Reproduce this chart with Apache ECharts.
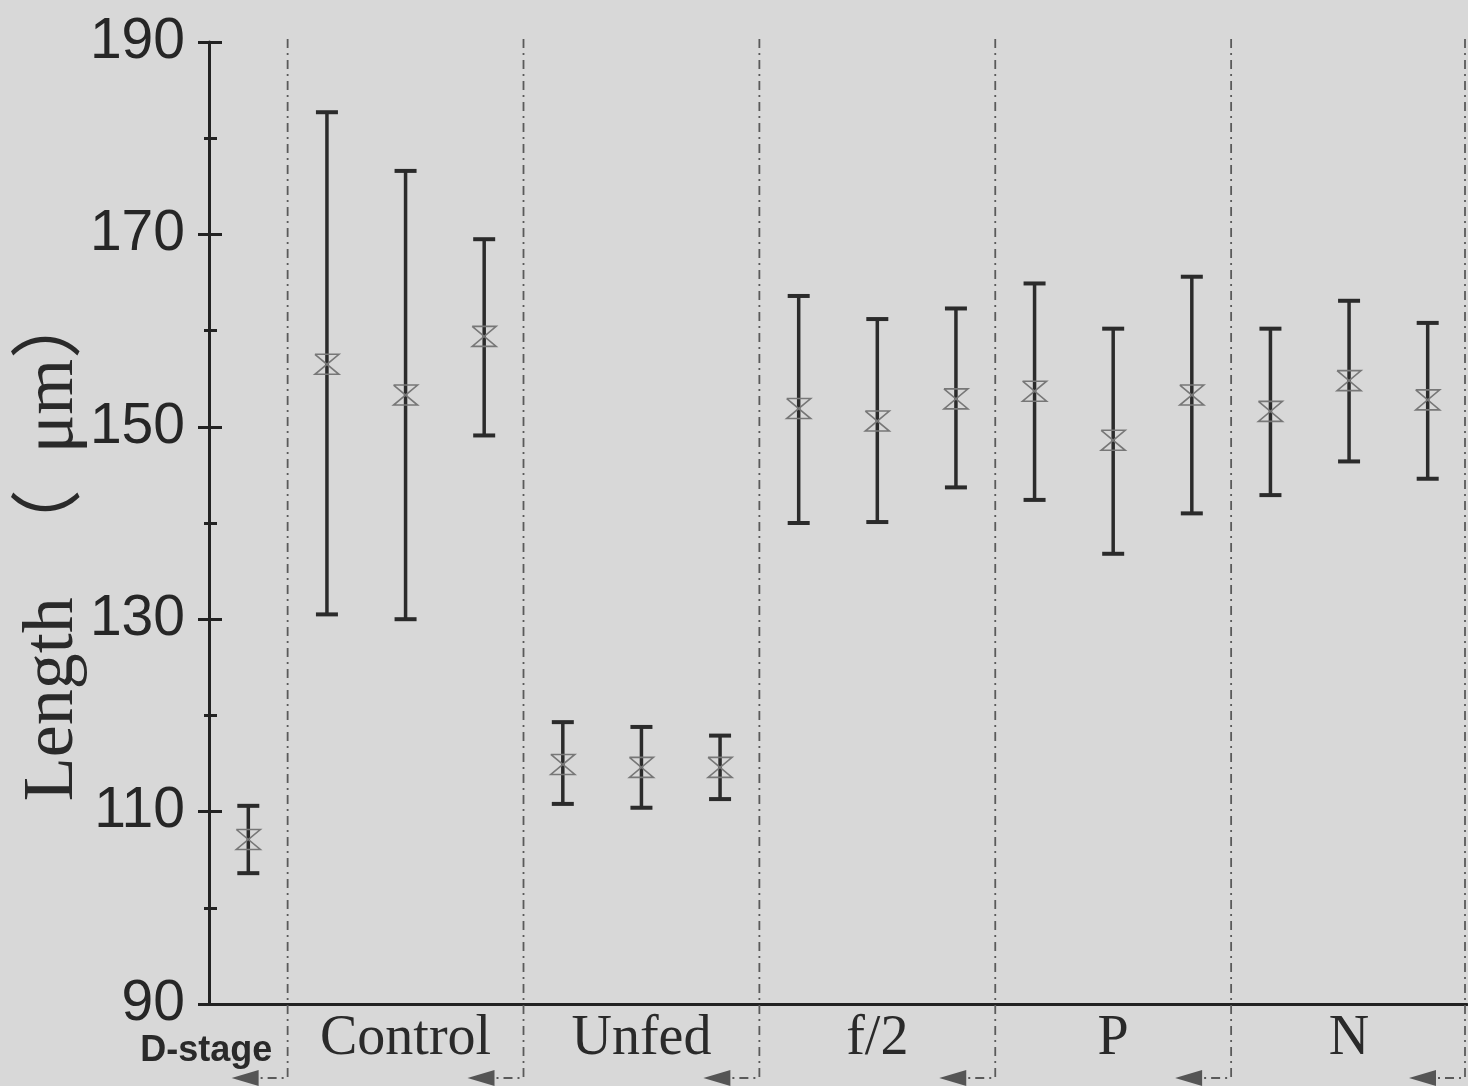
<!DOCTYPE html>
<html>
<head>
<meta charset="utf-8">
<script src="https://cdn.jsdelivr.net/npm/echarts@6/dist/echarts.min.js"></script>
<style>
  html, body { margin: 0; padding: 0; background: #d7d7d7; }
  #chart { width: 1468px; height: 1086px; }
</style>
</head>
<body>
<div id="chart"></div>
<script>
// groups along the x axis, each bar belongs to one of them
var categories = ['D-stage',
  'Control-1', 'Control-2', 'Control-3',
  'Unfed-1', 'Unfed-2', 'Unfed-3',
  'f/2-1', 'f/2-2', 'f/2-3',
  'P-1', 'P-2', 'P-3',
  'N-1', 'N-2', 'N-3'];
// label shown under the middle bar of each group
var groupLabels = {'D-stage': 'D-stage', 'Control-2': 'Control', 'Unfed-2': 'Unfed',
  'f/2-2': 'f/2', 'P-2': 'P', 'N-2': 'N'};
// separators sit after these category indexes
var groupEnds = [0, 3, 6, 9, 12, 15];

// length (um): mean, upper and lower end of the error bar
var meanLen  = [107.1, 156.5, 153.3, 159.4, 114.9, 114.6, 114.6, 151.9, 150.6, 152.9, 153.7, 148.6, 153.3, 151.6, 154.8, 152.8];
var upperLen = [110.6, 182.7, 176.6, 169.5, 119.3, 118.8, 117.9, 163.6, 161.2, 162.3, 164.9, 160.2, 165.6, 160.2, 163.1, 160.8];
var lowerLen = [103.6, 130.5, 130.0, 149.1, 110.8, 110.4, 111.3, 140.0, 140.1, 143.7, 142.4, 136.8, 141.0, 142.9, 146.4, 144.6];

var yMin = 90, yMax = 190;

var barData = categories.map(function (c, i) {
  return [i, lowerLen[i], upperLen[i], meanLen[i]];
});
var sepData = groupEnds.map(function (i) { return [i, yMax]; });

var chart = echarts.init(document.getElementById('chart'));

var ink = '#222';
var option = {
  backgroundColor: '#d8d8d8',
  animation: false,
  grid: { left: 209, right: 1, top: 42, bottom: 82 },
  xAxis: {
    type: 'category',
    data: categories,
    boundaryGap: true,
    axisLine: { lineStyle: { color: ink, width: 3 } },
    axisTick: { show: false },
    splitLine: { show: false },
    axisLabel: {
      interval: 0,
      margin: 7,
      formatter: function (val) {
        var t = groupLabels[val];
        if (!t) return '';
        return t === 'D-stage' ? '{d|' + t + '}' : '{g|' + t + '}';
      },
      rich: {
        g: { fontFamily: 'Liberation Serif', fontSize: 56, color: '#2a2a2a' },
        d: { fontFamily: 'Liberation Sans', fontWeight: 'bold', fontSize: 36, color: '#2a2a2a', padding: [22, 84, 0, 0] }
      }
    }
  },
  yAxis: [
    {
      // data axis, short inside ticks every 10
      type: 'value', position: 'left', min: yMin, max: yMax, interval: 10,
      axisLine: { show: true, lineStyle: { color: ink, width: 3 } },
      axisTick: { show: true, inside: true, length: 8, lineStyle: { color: ink, width: 3 } },
      axisLabel: { show: false },
      splitLine: { show: false },
      name: 'Length  （  μm）',
      nameLocation: 'middle',
      nameGap: 120,
      nameTextStyle: { fontFamily: "'Liberation Serif', 'Noto Sans CJK SC'", fontSize: 72, color: '#2a2a2a', padding: [0, 42, 0, 0] }
    },
    {
      // outside ticks + labels (0..100 mapped to 90..190)
      type: 'value', position: 'left', offset: 0, min: 0, max: 100, interval: 20,
      axisLine: { show: false },
      axisTick: { show: true, length: 11, lineStyle: { color: ink, width: 3 } },
      minorTick: { show: true, splitNumber: 2, length: 5, lineStyle: { color: ink, width: 3 } },
      axisLabel: {
        margin: 24, fontFamily: 'Liberation Sans', fontSize: 57, color: '#262626',
        formatter: function (v) { return String(v + yMin); }
      },
      splitLine: { show: false }
    },
    {
      // long inside ticks at the labelled values
      type: 'value', position: 'left', offset: 0, min: 0, max: 100, interval: 20,
      axisLine: { show: false },
      axisTick: { show: true, inside: true, length: 13, lineStyle: { color: ink, width: 3 } },
      axisLabel: { show: false },
      splitLine: { show: false }
    }
  ],
  series: [
    {
      // group separators with the little arrow underneath
      type: 'custom',
      clip: false,
      silent: true,
      data: sepData,
      renderItem: function (params, api) {
        var idx = api.value(0);
        var top = api.coord([idx, yMax]);
        var bottom = api.coord([idx, yMin]);
        var bw = api.size([1, 0])[0];
        var x = top[0] + bw / 2;
        var right = params.coordSys.x + params.coordSys.width;
        if (x > right - 2) x = right - 2;
        var yb = bottom[1] + 74;
        return {
          type: 'group',
          children: [
            {
              type: 'polyline',
              shape: { points: [[x, top[1] - 3], [x, yb], [x - 28, yb]] },
              style: { stroke: '#5a5a5a', lineWidth: 1.8, fill: null, lineDash: [9, 5, 2, 5] }
            },
            {
              type: 'polygon',
              shape: { points: [[x - 29, yb - 8], [x - 29, yb + 8], [x - 56, yb]] },
              style: { fill: '#555' }
            }
          ]
        };
      }
    },
    {
      // error bars with hourglass marker at the mean
      type: 'custom',
      yAxisIndex: 0,
      data: barData,
      renderItem: function (params, api) {
        var lo = api.coord([api.value(0), api.value(1)]);
        var hi = api.coord([api.value(0), api.value(2)]);
        var mid = api.coord([api.value(0), api.value(3)]);
        var x = hi[0], cw = 11, hw = 12, hh = 10;
        return {
          type: 'group',
          children: [
            { type: 'line', shape: { x1: x, y1: hi[1], x2: x, y2: lo[1] }, style: { stroke: '#2b2b2b', lineWidth: 3.5 } },
            { type: 'line', shape: { x1: x - cw, y1: hi[1], x2: x + cw, y2: hi[1] }, style: { stroke: '#2b2b2b', lineWidth: 4 } },
            { type: 'line', shape: { x1: x - cw, y1: lo[1], x2: x + cw, y2: lo[1] }, style: { stroke: '#2b2b2b', lineWidth: 4 } },
            {
              type: 'polyline',
              shape: { points: [[x - hw, mid[1] - hh], [x + hw, mid[1] - hh], [x - hw, mid[1] + hh], [x + hw, mid[1] + hh], [x - hw, mid[1] - hh]] },
              style: { stroke: '#777', lineWidth: 1.6, fill: null }
            }
          ]
        };
      }
    }
  ]
};

chart.setOption(option);
</script>
</body>
</html>
